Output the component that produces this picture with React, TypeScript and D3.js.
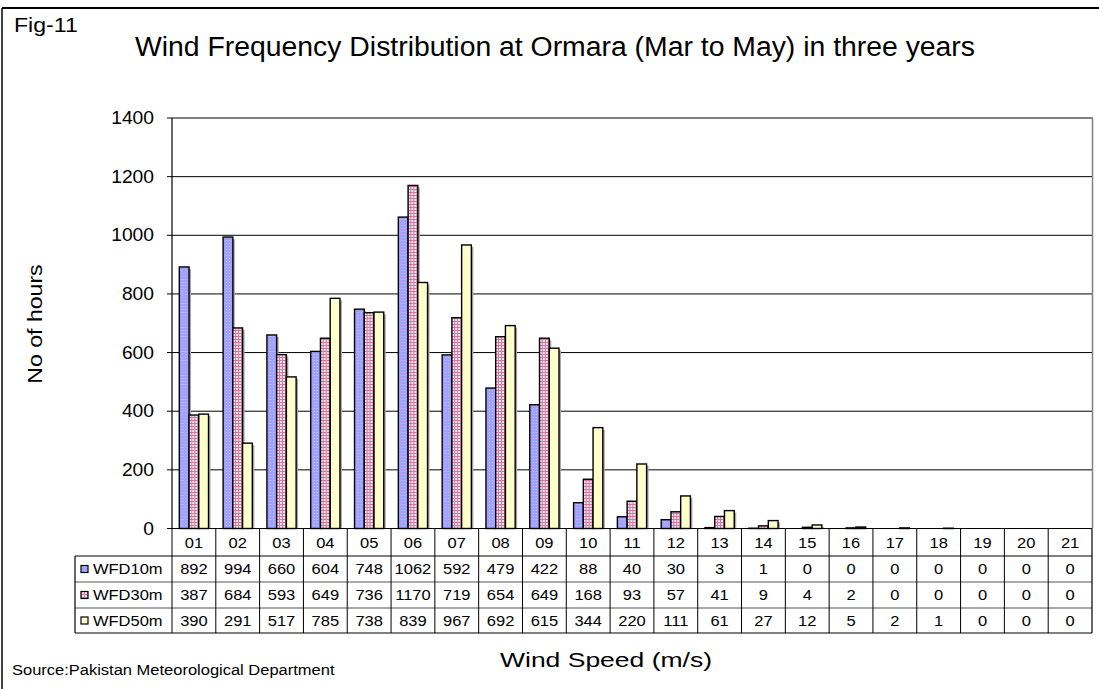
import React from "react";
import * as d3 from "d3";

const categories = ["01","02","03","04","05","06","07","08","09","10","11","12","13","14","15","16","17","18","19","20","21"];
const seriesNames = ["WFD10m", "WFD30m", "WFD50m"];
const wfd10 = [892, 994, 660, 604, 748, 1062, 592, 479, 422, 88, 40, 30, 3, 1, 0, 0, 0, 0, 0, 0, 0];
const wfd30 = [387, 684, 593, 649, 736, 1170, 719, 654, 649, 168, 93, 57, 41, 9, 4, 2, 0, 0, 0, 0, 0];
const wfd50 = [390, 291, 517, 785, 738, 839, 967, 692, 615, 344, 220, 111, 61, 27, 12, 5, 2, 1, 0, 0, 0];
const yTicks = [0, 200, 400, 600, 800, 1000, 1200, 1400];

const FONT = "'Liberation Sans', Arial, sans-serif";
const SX = 1.1;

function SText({ x, y, size, anchor = "start", children, rotate = 0 }: any) {
  return (
    <text
      transform={`translate(${x},${y}) rotate(${rotate}) scale(${SX},1)`}
      fontSize={size}
      fontFamily={FONT}
      textAnchor={anchor}
      fill="#000"
    >
      {children}
    </text>
  );
}

export default function App() {
  const W = 1099, H = 689;
  const plotL = 172, plotR = 1092, plotT = 118, plotB = 528.5;
  const tableRows = [556, 582, 608, 633];
  const legendL = 75;

  const x0 = d3.scaleBand<string>().domain(categories).range([plotL, plotR]).paddingInner(0).paddingOuter(0);
  const y = d3.scaleLinear().domain([0, 1400]).range([plotB, plotT]);
  const bw = x0.bandwidth();
  const groupW = bw / 1.5;
  const x1 = d3.scaleBand<string>().domain(seriesNames).range([0, groupW]).padding(0);
  const data = [wfd10, wfd30, wfd50];
  const fills = ["url(#pBlue)", "url(#pPink)", "#FFFFCC"];

  return (
    <svg width={W} height={H} style={{ position: "absolute", left: 0, top: 0, background: "#fff" }}>
      <defs>
        <pattern id="pBlue" width={3} height={3} patternUnits="userSpaceOnUse">
          <rect width={3} height={3} fill="#A0A0FF" />
          <rect width={1} height={1} fill="#C8C8FF" />
        </pattern>
        <pattern id="pPink" width={3} height={3} patternUnits="userSpaceOnUse">
          <rect width={3} height={3} fill="#F6E0EB" />
          <rect width={3} height={1} fill="#CC7AA2" />
          <rect width={1} height={3} fill="#CC7AA2" />
        </pattern>
      </defs>
      <rect x={0} y={0} width={W} height={H} fill="#fff" />
      {/* outer frame */}
      <line x1={2} y1={8} x2={W} y2={8} stroke="#000" strokeWidth={2} />
      <line x1={2} y1={8} x2={2} y2={H} stroke="#000" strokeWidth={1.5} />

      <SText x={14} y={32} size={21}>Fig-11</SText>
      <text x={555} y={56} fontSize={27} fontFamily={FONT} textAnchor="middle" textLength={840} lengthAdjust="spacingAndGlyphs">
        Wind Frequency Distribution at Ormara (Mar to May) in three years
      </text>

      {/* gridlines */}
      {yTicks.filter(t => t > 0).map(t => (
        <line key={t} x1={plotL} x2={plotR} y1={y(t)} y2={y(t)} stroke="#000" strokeWidth={1} />
      ))}
      {/* plot border (gray) */}
      <line x1={plotL} x2={plotR + 1} y1={plotT} y2={plotT} stroke="#808080" strokeWidth={1.5} />
      <line x1={plotR + 0.5} x2={plotR + 0.5} y1={plotT} y2={plotB} stroke="#808080" strokeWidth={1.5} />

      {/* bars */}
      {categories.map((c, i) => (
        <g key={c} transform={`translate(${x0(c)! + (bw - groupW) / 2},0)`}>
          {seriesNames.map((s, j) => {
            const v = data[j][i];
            if (v <= 0) return null;
            const bx = x1(s)!;
            const by = y(v);
            const bh = plotB - by;
            return (
              <g key={s}>
                <rect x={bx + 2} y={by + 2} width={x1.bandwidth()} height={Math.max(0, bh - 2)} fill="#A8A8A8" />
                <rect x={bx} y={by} width={x1.bandwidth()} height={bh} fill={fills[j]} stroke="#000" strokeWidth={1.4} />
              </g>
            );
          })}
        </g>
      ))}

      {/* y axis */}
      <line x1={plotL} x2={plotL} y1={plotT} y2={plotB} stroke="#000" strokeWidth={1.2} />
      {yTicks.map(t => (
        <g key={t}>
          <line x1={plotL - 5} x2={plotL} y1={y(t)} y2={y(t)} stroke="#000" strokeWidth={1} />
          <SText x={plotL - 18} y={y(t) + 6} size={17.5} anchor="end">{t}</SText>
        </g>
      ))}
      <SText x={42} y={324} size={21} anchor="middle" rotate={-90}>No of hours</SText>

      {/* data table */}
      <line x1={plotL} x2={plotR} y1={plotB} y2={plotB} stroke="#000" strokeWidth={1.2} />
      {tableRows.map((ry, k) => (
        <line key={k} x1={legendL} x2={plotR} y1={ry} y2={ry} stroke={k === 0 || k === 3 ? "#000" : "#555"} strokeWidth={1} />
      ))}
      <line x1={legendL} x2={legendL} y1={tableRows[0]} y2={tableRows[3]} stroke="#000" strokeWidth={1.2} />
      {categories.map(c => (
        <line key={c} x1={x0(c)!} x2={x0(c)!} y1={plotB} y2={tableRows[3]} stroke="#000" strokeWidth={1} />
      ))}
      <line x1={plotR} x2={plotR} y1={plotB} y2={tableRows[3]} stroke="#000" strokeWidth={1.2} />
      {categories.map(c => (
        <SText key={c} x={x0(c)! + bw / 2} y={548} size={15} anchor="middle">{c}</SText>
      ))}
      {seriesNames.map((s, j) => {
        const ry = tableRows[j];
        const cy = ry + (tableRows[j + 1] - ry) / 2;
        return (
          <g key={s}>
            <rect x={81} y={cy - 3.5} width={7} height={7} fill={fills[j]} stroke="#000" strokeWidth={1.2} />
            <SText x={93} y={cy + 5} size={15}>{s}</SText>
            {categories.map((c, i) => (
              <SText key={c} x={x0(c)! + bw / 2} y={cy + 5} size={15} anchor="middle">{data[j][i]}</SText>
            ))}
          </g>
        );
      })}

      <text x={606} y={667} fontSize={21} fontFamily={FONT} textAnchor="middle" textLength={212} lengthAdjust="spacingAndGlyphs">Wind Speed (m/s)</text>
      <SText x={12} y={675} size={15}>Source:Pakistan Meteorological Department</SText>
    </svg>
  );
}
